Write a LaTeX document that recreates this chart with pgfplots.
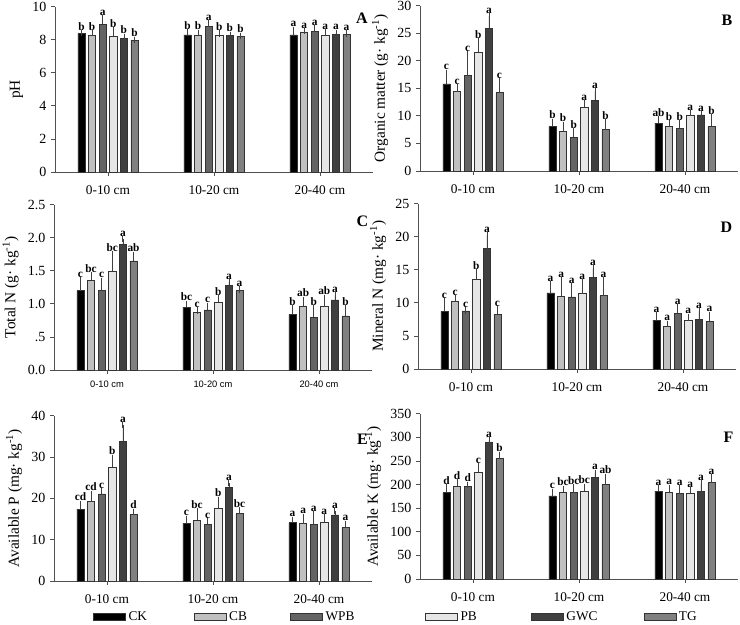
\documentclass[border=0pt]{standalone}
\usepackage{fontspec}
\setmainfont{Liberation Serif}
\newfontfamily\arialfont{Liberation Sans}
\usepackage{pgfplots}
\usepackage{pgfplotstable}
\pgfplotsset{compat=1.18}

\definecolor{cCK}{HTML}{000000}
\definecolor{cCB}{HTML}{C0C0C0}
\definecolor{cWPB}{HTML}{646464}
\definecolor{cPB}{HTML}{E6E6E6}
\definecolor{cGWC}{HTML}{404040}
\definecolor{cTG}{HTML}{808080}
\definecolor{axc}{HTML}{505050}

% one table per panel: value, error, letter for each treatment
\pgfplotstableread{
x ck eck lck cb ecb lcb wpb ewpb lwpb pb epb lpb gwc egwc lgwc tg etg ltg
0 8.38 0.02 b 8.28 0.12 b 8.95 0.35 a 8.20 0.38 b 8.08 0.10 b 7.98 0.02 b
1 8.30 0.15 b 8.30 0.12 b 8.80 0.18 a 8.25 0.12 b 8.28 0.02 b 8.22 0.02 b
2 8.30 0.30 a 8.48 0.04 a 8.52 0.17 a 8.28 0.16 a 8.32 0.10 a 8.33 0.04 a
}\tabA
\pgfplotstableread{
x ck eck lck cb ecb lcb wpb ewpb lwpb pb epb lpb gwc egwc lgwc tg etg ltg
0 15.8 2.0 c 14.4 0.75 c 17.3 3.9 c 21.6 1.9 b 25.9 2.2 a 14.2 2.1 c
1 8.1 0.8 b 7.2 1.2 b 6.1 1.1 b 11.6 0.7 a 12.8 1.7 a 7.5 1.3 b
2 8.7 0.65 ab 8.1 0.5 b 7.8 0.9 b 10.2 0.3 a 10.2 0.05 a 8.1 1.65 b
}\tabB
\pgfplotstableread{
x ck eck lck cb ecb lcb wpb ewpb lwpb pb epb lpb gwc egwc lgwc tg etg ltg
0 1.20 0.16 c 1.36 0.07 bc 1.20 0.15 c 1.50 0.25 bc 1.90 0.08 a 1.65 0.09 ab
1 0.95 0.05 bc 0.87 0.03 c 0.91 0.06 c 1.03 0.05 b 1.28 0.05 a 1.20 0.02 a
2 0.84 0.09 b 0.97 0.09 ab 0.80 0.13 b 0.96 0.13 ab 1.06 0.07 a 0.82 0.11 b
}\tabC
\pgfplotstableread{
x ck eck lck cb ecb lcb wpb ewpb lwpb pb epb lpb gwc egwc lgwc tg etg ltg
0 8.7 1.5 c 10.3 0.35 c 8.8 0.05 c 13.6 1.0 b 18.2 2.05 a 8.25 0.75 c
1 11.5 1.3 a 11.0 2.4 a 10.9 1.6 a 11.4 1.7 a 13.9 1.3 a 11.1 2.3 a
2 7.4 0.75 a 6.4 0.4 a 8.4 0.95 a 7.3 0.6 a 7.5 1.2 a 7.2 1.0 a
}\tabD
\pgfplotstableread{
x ck eck lck cb ecb lcb wpb ewpb lwpb pb epb lpb gwc egwc lgwc tg etg ltg
0 17.4 1.3 cd 19.2 1.9 cd 21.1 0.6 c 27.5 2.3 b 33.8 3.9 a 16.1 0.6 d
1 13.9 1.1 c 14.7 2.1 bc 13.7 0.8 c 17.7 1.9 b 22.7 1.0 a 16.3 0.8 bc
2 14.1 0.7 a 13.9 1.6 a 13.7 2.4 a 14.2 1.2 a 16.0 0.9 a 12.9 0.95 a
}\tabE
\pgfplotstableread{
x ck eck lck cb ecb lcb wpb ewpb lwpb pb epb lpb gwc egwc lgwc tg etg ltg
0 183 10.5 d 196 8 d 196 3.5 d 227 12 c 290 3.5 a 255 7.5 b
1 176 8.5 c 184 7 bc 183 10.5 bc 186 9 bc 215 10 a 200 16 ab
2 186 6.5 a 184 9 a 181 10.5 a 182 6 a 185 17.5 a 204 10.5 a
}\tabF

\tikzset{plab/.style={font=\bfseries\fontsize{12}{12}\selectfont}}
\pgfplotsset{
  panel/.style={
    scale only axis, width=238.5pt, height=124pt, anchor=south west,
    xmin=-0.5, xmax=2.5, ymin=0, clip=false,
    axis x line*=bottom, axis y line*=left,
    axis line style={axc, line width=0.6pt},
    tick style={axc, line width=0.6pt},
    tick align=outside, major tick length=3pt,
    xtick={0,1,2}, xticklabels={0-10 cm,10-20 cm,20-40 cm},
    xticklabel style={font=\fontsize{10}{12}\selectfont, yshift=-4pt},
    yticklabel style={font=\fontsize{10.5}{12}\selectfont},
    ylabel style={font=\fontsize{11.5}{13}\selectfont},
    /pgf/number format/assume math mode=true,
    legend image code/.code={\draw[##1, draw=black!80] (0pt,-2.6pt) rectangle (24pt,2.6pt);},
  },
  bar/.style={ybar, bar width=0.068, bar shift=0pt, draw=black!80, line width=0.4pt,
    error bars/y dir=plus, error bars/y explicit,
    error bars/error bar style={black!75, line width=0.6pt},
    error bars/error mark options={black!75, line width=0.6pt, mark size=2.4pt}},
  lab/.style={ybar, bar width=0.068, bar shift=0pt, draw=none, fill=none, forget plot,
    point meta=explicit symbolic, nodes near coords,
    every node near coord/.style={font=\bfseries\fontsize{8.5}{8.5}\selectfont,
      anchor=south, inner sep=1pt, yshift=1pt, black}},
  leg/.style={legend columns=3, legend style={draw=none, fill=none, inner sep=0pt,
    anchor=west, font=\fontsize{10}{12}\selectfont, cells={anchor=west}}},
}

% #1 table, #2 column, #3 offset inside the group, #4 colour
\newcommand{\ser}[4]{%
  \addplot[bar, fill=#4] table[x expr=\thisrow{x}+#3, y=#2, y error=e#2] {#1};
  \addplot[lab] table[x expr=\thisrow{x}+#3, y expr=\thisrow{#2}+\thisrow{e#2}, meta=l#2] {#1};
}
\newcommand{\allser}[1]{%
  \ser{#1}{ck}{-0.25}{cCK}\ser{#1}{cb}{-0.15}{cCB}\ser{#1}{wpb}{-0.05}{cWPB}%
  \ser{#1}{pb}{0.05}{cPB}\ser{#1}{gwc}{0.15}{cGWC}\ser{#1}{tg}{0.25}{cTG}}

\begin{document}
\begin{tikzpicture}
\useasboundingbox (0,0) rectangle (555pt,-468.75pt);

% A pH
\begin{axis}[panel, at={(41.25pt,-129pt)}, ymax=10, ytick={0,2,...,10}, ylabel={pH}]
\allser{\tabA}
\node[plab] at (rel axis cs:0.965,0.93) {A};
\end{axis}

% B organic matter
\begin{axis}[panel, at={(315pt,-128.25pt)}, ymax=30, ytick={0,5,...,30},
  ylabel={Organic matter (g· kg\textsuperscript{-1})}]
\allser{\tabB}
\node[plab] at (rel axis cs:0.965,0.91) {B};
\end{axis}

% C total N
\begin{axis}[panel, at={(40.5pt,-277.5pt)}, ymax=2.5, ytick={0,0.5,...,2.5},
  yticklabels={0.0,.5,1.0,1.5,2.0,2.5},
  xticklabel style={font=\arialfont\fontsize{7}{8}\selectfont, yshift=2pt},
  ylabel={Total N (g· kg\textsuperscript{-1})}]
\allser{\tabC}
\node[plab] at (rel axis cs:0.97,0.90) {C};
\end{axis}

% D mineral N
\begin{axis}[panel, at={(313.5pt,-276.75pt)}, ymax=25, ytick={0,5,...,25},
  ylabel={Mineral N (mg· kg\textsuperscript{-1})}]
\allser{\tabD}
\node[plab] at (rel axis cs:0.97,0.86) {D};
\end{axis}

% E available P
\begin{axis}[panel, at={(40.5pt,-435.75pt)}, ymax=40, ytick={0,10,...,40},
  ylabel={Available P (mg· kg\textsuperscript{-1})},
  leg, legend style={at={(0.123,-0.217)}},
  legend entries={\makebox[47pt][l]{CK},\makebox[44pt][l]{CB},WPB}]
\addlegendimage{fill=cCK}
\addlegendimage{fill=cCB}
\addlegendimage{fill=cWPB}
\allser{\tabE}
\node[plab] at (rel axis cs:0.97,0.86) {E};
\end{axis}

% F available K
\begin{axis}[panel, at={(315pt,-434.25pt)}, ymax=350, ytick={0,50,...,350},
  ylabel={Available K (mg· kg\textsuperscript{-1})},
  leg, legend style={at={(0.016,-0.23)}},
  legend entries={\makebox[51pt][l]{PB},\makebox[56pt][l]{GWC},TG}]
\addlegendimage{fill=cPB}
\addlegendimage{fill=cGWC}
\addlegendimage{fill=cTG}
\allser{\tabF}
\node[plab] at (rel axis cs:0.97,0.86) {F};
\end{axis}
\end{tikzpicture}
\end{document}
